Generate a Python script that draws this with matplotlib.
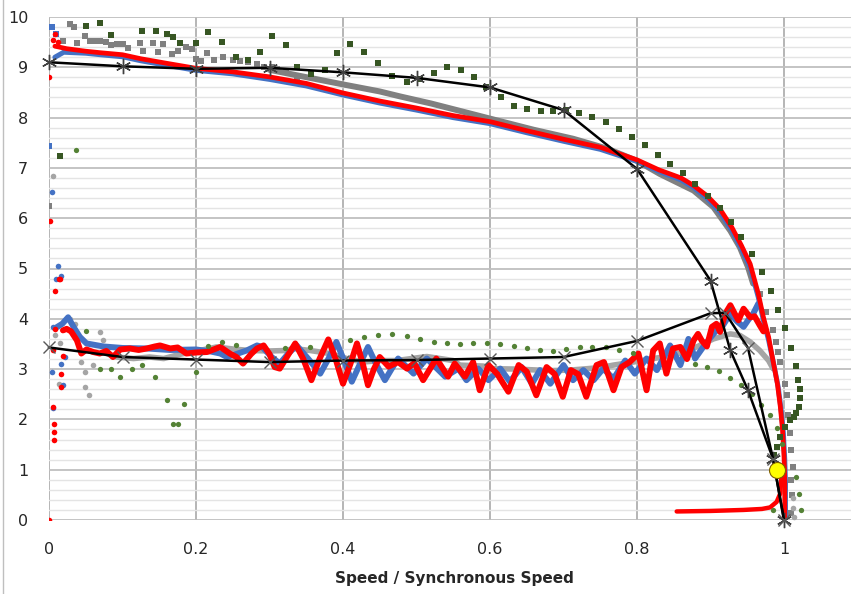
import numpy as np
import matplotlib.pyplot as plt
from matplotlib.lines import Line2D

# ---- data (speed / synchronous speed, value) ----
# upper (squares) family
red_up_x = [0.008, 0.024, 0.05, 0.07, 0.1, 0.125, 0.16, 0.2, 0.25, 0.3, 0.35, 0.4, 0.45, 0.5, 0.55, 0.6, 0.65, 0.7, 0.75, 0.8,
            0.83, 0.86, 0.877, 0.895, 0.913, 0.929, 0.942, 0.954, 0.965, 0.972, 0.979, 0.985, 0.991, 0.995, 0.998, 1.0, 1.001, 1.001]
red_up_y = [9.42, 9.37, 9.32, 9.29, 9.25, 9.17, 9.08, 8.98, 8.91, 8.81, 8.68, 8.49, 8.33, 8.19, 8.04, 7.92, 7.74, 7.57, 7.41, 7.16,
            6.96, 6.8, 6.65, 6.45, 6.18, 5.82, 5.46, 5.09, 4.5, 4.03, 3.64, 3.17, 2.71, 2.25, 1.79, 1.26, 0.79, 0.04]

blue_up_x = [0.008, 0.02, 0.05, 0.07, 0.1, 0.125, 0.16, 0.2, 0.25, 0.3, 0.35, 0.4, 0.45, 0.5, 0.55, 0.6, 0.65, 0.7, 0.75, 0.8,
             0.83, 0.86, 0.877, 0.895, 0.913, 0.929, 0.942, 0.954, 0.965, 0.972, 0.979, 0.986, 0.992, 0.996, 0.999, 1.001, 1.002, 1.002]
blue_up_y = [9.2, 9.3, 9.28, 9.25, 9.21, 9.13, 9.04, 8.94, 8.87, 8.76, 8.63, 8.45, 8.29, 8.15, 8.0, 7.88, 7.7, 7.53, 7.37, 7.13,
             6.93, 6.76, 6.61, 6.4, 6.12, 5.76, 5.4, 5.02, 4.43, 3.97, 3.58, 3.1, 2.65, 2.2, 1.75, 1.2, 0.75, 0.04]

gray_up_x = [0.3, 0.341, 0.4, 0.45, 0.478, 0.52, 0.568, 0.6, 0.659, 0.713, 0.76, 0.8, 0.831, 0.877, 0.904, 0.927, 0.94, 0.951, 0.958]
gray_up_y = [8.95, 8.83, 8.66, 8.52, 8.42, 8.28, 8.1, 7.98, 7.76, 7.58, 7.38, 7.14, 6.88, 6.55, 6.22, 5.75, 5.42, 5.03, 4.7]

gray_up_pts_x = [0.0, 0.029, 0.034, 0.019, 0.038, 0.049, 0.056, 0.063, 0.07, 0.078, 0.085, 0.092, 0.1, 0.108, 0.124, 0.128, 0.142,
                 0.148, 0.155, 0.167, 0.176, 0.187, 0.194, 0.2, 0.207, 0.215, 0.225, 0.237, 0.25, 0.26, 0.271, 0.283, 0.292,
                 0.303, 0.31, 0.323, 0.337,
                 0.967, 0.976, 0.985, 0.989, 0.992, 0.995, 1.001, 1.004, 1.006, 1.008, 1.01, 1.012, 1.01, 1.011, 1.01]
gray_up_pts_y = [6.25, 9.87, 9.8, 9.52, 9.49, 9.62, 9.52, 9.53, 9.52, 9.5, 9.44, 9.47, 9.46, 9.39, 9.49, 9.33, 9.49,
                 9.3, 9.46, 9.26, 9.33, 9.4, 9.36, 9.17, 9.12, 9.29, 9.15, 9.21, 9.14, 9.13, 9.1, 9.06, 9.0,
                 9.0, 8.96, 8.93, 8.8,
                 4.5, 4.13, 3.77, 3.54, 3.34, 3.14, 2.71, 2.48, 2.08, 1.72, 1.39, 1.06, 0.79, 0.5, 0.13]

green_up_x = [0.015, 0.051, 0.069, 0.084, 0.127, 0.145, 0.16, 0.169, 0.178, 0.2, 0.217, 0.235, 0.254, 0.271, 0.287, 0.304,
              0.322, 0.338, 0.356, 0.375, 0.392, 0.41, 0.429, 0.448, 0.467, 0.487, 0.505, 0.524, 0.542, 0.56, 0.578, 0.595,
              0.615, 0.632, 0.651, 0.669, 0.686, 0.703, 0.721, 0.739, 0.758, 0.776, 0.793, 0.811, 0.828, 0.845, 0.862,
              0.879, 0.897, 0.913, 0.928, 0.942, 0.956, 0.97, 0.982, 0.992, 1.002, 1.01, 1.016, 1.019, 1.022, 1.022,
              1.021, 1.017, 1.013, 1.008, 1.001, 0.995, 0.99, 0.986]
green_up_y = [7.24, 9.83, 9.88, 9.64, 9.72, 9.72, 9.67, 9.61, 9.49, 9.49, 9.7, 9.5, 9.2, 9.14, 9.3, 9.62,
              9.44, 9.0, 8.86, 8.94, 9.29, 9.46, 9.31, 9.09, 8.83, 8.7, 8.76, 8.88, 9.0, 8.95, 8.81, 8.6,
              8.4, 8.23, 8.17, 8.13, 8.13, 8.15, 8.09, 8.02, 7.92, 7.77, 7.62, 7.45, 7.26, 7.08, 6.89,
              6.67, 6.45, 6.2, 5.92, 5.62, 5.29, 4.93, 4.55, 4.17, 3.82, 3.42, 3.06, 2.78, 2.6, 2.43,
              2.24, 2.12, 2.05, 1.98, 1.85, 1.65, 1.45, 1.29]

black_up_x = [0.0, 0.1, 0.2, 0.3, 0.4, 0.5, 0.6, 0.7, 0.8, 0.9, 0.927, 0.951, 0.985, 1.0]
black_up_y = [9.1, 9.02, 8.97, 8.99, 8.9, 8.79, 8.6, 8.15, 6.98, 4.76, 3.37, 2.58, 1.22, 0.0]

# lower (circles) family
red_low_x = [0.019, 0.024, 0.03, 0.038, 0.044, 0.051, 0.06, 0.069, 0.078, 0.087, 0.097, 0.11, 0.122, 0.133, 0.144, 0.151,
             0.165, 0.175, 0.187, 0.2, 0.215, 0.224, 0.233, 0.246, 0.255, 0.264, 0.275, 0.283, 0.292, 0.3, 0.307, 0.314,
             0.324, 0.335, 0.346, 0.357, 0.368, 0.38, 0.39, 0.4, 0.41, 0.419, 0.427, 0.434, 0.442, 0.45, 0.462, 0.475,
             0.487, 0.497, 0.509, 0.527, 0.543, 0.552, 0.566, 0.577, 0.586, 0.598, 0.61, 0.625, 0.639, 0.65, 0.663,
             0.677, 0.688, 0.699, 0.71, 0.72, 0.731, 0.745, 0.755, 0.768, 0.779, 0.79, 0.802, 0.813, 0.822, 0.831,
             0.84, 0.849, 0.859, 0.868, 0.877, 0.883, 0.888, 0.895, 0.902, 0.908, 0.913, 0.92, 0.927, 0.933, 0.938,
             0.945, 0.954, 0.96, 0.967, 0.972]
red_low_y = [3.77, 3.8, 3.75, 3.57, 3.31, 3.39, 3.34, 3.31, 3.36, 3.24, 3.39, 3.41, 3.38, 3.41, 3.45, 3.47,
             3.41, 3.43, 3.31, 3.33, 3.34, 3.39, 3.44, 3.31, 3.24, 3.11, 3.3, 3.41, 3.47, 3.3, 3.04, 3.01,
             3.25, 3.51, 3.2, 2.78, 3.2, 3.59, 3.2, 2.71, 3.1, 3.51, 3.1, 2.68, 3.0, 3.24, 3.05, 3.14,
             3.01, 3.12, 2.78, 3.21, 2.85, 3.11, 2.85, 3.14, 2.58, 3.08, 2.9, 2.55, 3.08, 2.95, 2.48,
             3.04, 2.9, 2.45, 2.98, 2.9, 2.45, 3.08, 3.14, 2.58, 3.04, 3.14, 3.31, 2.58, 3.37, 3.51,
             2.91, 3.41, 3.44, 3.2, 3.57, 3.7, 3.57, 3.45, 3.84, 3.9, 3.74, 4.1, 4.27, 4.1, 3.97,
             4.2, 4.03, 4.05, 3.87, 3.75]

red_tail_x = [0.854, 0.9, 0.945, 0.97, 0.981, 0.99, 0.995, 0.997]
red_tail_y = [0.17, 0.18, 0.2, 0.22, 0.25, 0.36, 0.53, 1.0]

red_pts_x = [0.0, 0.007, 0.007, 0.007, 0.006, 0.016, 0.017, 0.019, 0.005, 0.008, 0.008, 0.013, 0.015, 0.001, 0.0, 0.008, 0.006, 0.012]
red_pts_y = [0.0, 1.9, 1.74, 1.6, 2.25, 2.91, 2.64, 3.27, 3.37, 3.79, 4.55, 4.8, 4.8, 5.95, 8.81, 9.66, 9.55, 9.5]

blue_low_x = [0.008, 0.018, 0.026, 0.035, 0.042, 0.051, 0.074, 0.1, 0.133, 0.165, 0.2, 0.22, 0.233, 0.242, 0.255, 0.269,
              0.283, 0.29, 0.303, 0.314, 0.325, 0.337, 0.353, 0.369, 0.38, 0.391, 0.402, 0.412, 0.423, 0.434, 0.445,
              0.457, 0.466, 0.475, 0.496, 0.514, 0.539, 0.557, 0.568, 0.584, 0.598, 0.614, 0.627, 0.643, 0.657, 0.668,
              0.682, 0.7, 0.713, 0.727, 0.741, 0.754, 0.768, 0.784, 0.797, 0.813, 0.827, 0.845, 0.859, 0.87, 0.879,
              0.893, 0.908, 0.917, 0.927, 0.936, 0.945, 0.951, 0.958, 0.965]
blue_low_y = [3.81, 3.9, 4.03, 3.8, 3.64, 3.51, 3.45, 3.42, 3.41, 3.38, 3.39, 3.35, 3.31, 3.24, 3.3, 3.37,
              3.47, 3.44, 3.24, 3.11, 3.3, 3.47, 3.2, 2.91, 3.2, 3.54, 3.15, 2.75, 3.1, 3.44, 3.1,
              2.78, 3.0, 3.21, 2.91, 3.21, 2.85, 3.01, 2.78, 3.01, 2.78, 3.01, 2.75, 3.04, 2.71, 2.98,
              2.71, 3.08, 2.78, 2.98, 2.78, 3.01, 2.81, 3.17, 2.91, 3.21, 2.98, 3.47, 3.08, 3.6, 3.21,
              3.5, 3.77, 3.87, 4.1, 3.95, 3.84, 3.97, 4.1, 4.3]

blue_sq_x = [0.004, 0.01, 0.0]
blue_sq_y = [9.8, 9.67, 7.44]
blue_pts_x = [0.004, 0.012, 0.009, 0.016, 0.006, 0.004, 0.005, 0.017, 0.019, 0.022]
blue_pts_y = [6.53, 5.04, 4.8, 4.85, 3.84, 2.94, 2.22, 3.11, 2.68, 3.25]

gray_low_x = [0.08, 0.092, 0.115, 0.137, 0.156, 0.18, 0.205, 0.228, 0.25, 0.273, 0.3, 0.323, 0.332, 0.355, 0.382, 0.405,
              0.427, 0.45, 0.473, 0.514, 0.532, 0.55, 0.559, 0.591, 0.6, 0.636, 0.682, 0.709, 0.75, 0.768, 0.795, 0.822,
              0.849, 0.881, 0.904, 0.927, 0.94, 0.954, 0.967, 0.979, 0.985]
gray_low_y = [3.3, 3.24, 3.21, 3.24, 3.21, 3.3, 3.37, 3.44, 3.4, 3.37, 3.36, 3.37, 3.41, 3.37, 3.31, 3.21,
              3.14, 3.17, 3.17, 3.25, 3.21, 3.17, 3.08, 3.06, 3.01, 3.0, 2.97, 2.98, 3.03, 3.08, 3.14, 3.21,
              3.27, 3.44, 3.6, 3.7, 3.67, 3.54, 3.37, 3.17, 3.01]
gray_low_pts_x = [0.006, 0.008, 0.015, 0.013, 0.029, 0.035, 0.044, 0.049, 0.06, 0.049, 0.054, 0.069, 0.074,
                  1.012, 1.012, 1.013]
gray_low_pts_y = [6.83, 3.67, 3.51, 2.71, 4.0, 3.9, 3.14, 2.94, 3.08, 2.64, 2.48, 3.74, 3.57,
                  0.44, 0.24, 0.06]

green_low_x = [0.037, 0.051, 0.069, 0.084, 0.097, 0.113, 0.127, 0.144, 0.16, 0.169, 0.176, 0.183, 0.2, 0.217, 0.235,
               0.254, 0.321, 0.355, 0.41, 0.428, 0.448, 0.466, 0.487, 0.505, 0.524, 0.541, 0.559, 0.577, 0.596,
               0.614, 0.632, 0.651, 0.668, 0.686, 0.703, 0.722, 0.739, 0.758, 0.776, 0.795, 0.879, 0.895, 0.911,
               0.927, 0.942, 0.956, 0.969, 0.981, 0.991, 0.997, 0.985, 1.017, 1.02, 1.023]
green_low_y = [7.36, 3.75, 3.0, 3.01, 2.85, 3.01, 3.08, 2.85, 2.38, 1.9, 1.9, 2.3, 2.94, 3.46, 3.54,
               3.47, 3.41, 3.44, 3.57, 3.64, 3.67, 3.69, 3.66, 3.59, 3.54, 3.51, 3.5, 3.51, 3.52,
               3.49, 3.45, 3.41, 3.37, 3.35, 3.39, 3.43, 3.43, 3.43, 3.37, 3.33, 3.11, 3.04, 2.96,
               2.83, 2.68, 2.51, 2.28, 2.08, 1.82, 1.52, 0.2, 0.86, 0.52, 0.2]

black_low_x = [0.0, 0.1, 0.2, 0.3, 0.4, 0.5, 0.6, 0.7, 0.8, 0.9, 0.92, 0.951, 0.985, 1.0]
black_low_y = [3.43, 3.24, 3.19, 3.14, 3.17, 3.18, 3.21, 3.24, 3.56, 4.11, 4.12, 3.42, 1.22, 0.0]

op_x = [0.99]
op_y = [0.99]

# ---- figure ----
fig = plt.figure(figsize=(8.51, 5.94), dpi=100)
ax = fig.add_axes([49 / 851, 74 / 594, 808.5 / 851, 503 / 594])

gray_dk = '#808080'
gray_lt = '#A5A5A5'
blue = '#4472C4'
red = '#FF0000'
green_dk = '#375623'
green = '#548235'

# gray
ax.plot(gray_up_x, gray_up_y, color=gray_dk, lw=4.3, solid_capstyle='round', zorder=2)
ax.plot(gray_up_pts_x, gray_up_pts_y, 's', color=gray_dk, ms=4.5, mew=0, zorder=2)
ax.plot(gray_low_x, gray_low_y, color=gray_lt, lw=4.0, solid_capstyle='round', zorder=2)
ax.plot(gray_low_pts_x, gray_low_pts_y, 'o', color=gray_lt, ms=4, mew=0, zorder=2)

# blue
ax.plot(blue_up_x, blue_up_y, color=blue, lw=3.6, solid_capstyle='round', zorder=3)
ax.plot(blue_low_x, blue_low_y, color=blue, lw=4.3, solid_capstyle='round', zorder=3)
ax.plot(blue_sq_x, blue_sq_y, 's', color=blue, ms=4.5, mew=0, zorder=3)
ax.plot(blue_pts_x, blue_pts_y, 'o', color=blue, ms=4, mew=0, zorder=3)

# red
ax.plot(red_up_x, red_up_y, color=red, lw=3.4, solid_capstyle='round', zorder=4)
ax.plot(red_low_x, red_low_y, color=red, lw=4.3, solid_capstyle='round', zorder=4)
ax.plot(red_tail_x, red_tail_y, color=red, lw=3.2, solid_capstyle='round', zorder=4)
ax.plot(red_pts_x, red_pts_y, 'o', color=red, ms=4, mew=0, zorder=4)

# green
ax.plot(green_up_x, green_up_y, 's', color=green_dk, ms=4.3, mew=0, zorder=5)
ax.plot(green_low_x, green_low_y, 'o', color=green, ms=3.8, mew=0, zorder=5)

# black
ax.plot(black_up_x, black_up_y, color='black', lw=1.8, marker=(6, 2, 0), ms=11, mec='#404040', mew=1.0,
        zorder=6, clip_on=False)
ax.plot(black_low_x, black_low_y, color='black', lw=1.8, marker='x', ms=9, mec='#595959', mew=1.0,
        zorder=6, clip_on=False)

# operating point
ax.plot(op_x, op_y, 'o', color='#FFFF00', ms=11.5, mec='#7F6000', mew=0.8, zorder=7)

# ---- axes cosmetics ----
ax.set_xlim(0, 1.1)
ax.set_ylim(0, 10)
ax.set_xticks([0, 0.2, 0.4, 0.6, 0.8, 1.0])
ax.set_xticklabels(['0', '0.2', '0.4', '0.6', '0.8', '1'])
ax.set_yticks(np.arange(0, 11, 1))
ax.set_yticks(np.arange(0, 10.01, 0.2), minor=True)
ax.grid(which='major', axis='y', color='#BFBFBF', lw=1.3, zorder=0)
ax.grid(which='minor', axis='y', color='#E4E4E4', lw=1.0, zorder=0)
ax.grid(which='major', axis='x', color='#B0B0B0', lw=1.3, zorder=0)
ax.set_axisbelow(True)
for s in ax.spines.values():
    s.set_visible(False)
ax.tick_params(which='both', length=0)
ax.tick_params(axis='x', pad=15.5, labelsize=11.5, labelcolor='#262626')
ax.tick_params(axis='y', pad=15, labelsize=11.5, labelcolor='#262626')

ax.set_xlabel('Speed / Synchronous Speed', fontsize=11, fontweight='bold', color='#262626')
ax.xaxis.set_label_coords((454 - 49) / 808.5, -(579 - 520) / 503)
ax.xaxis.label.set_va('center')

# chart area border on the left
fig.add_artist(Line2D([3 / 851, 3 / 851], [0, 1], color='#BFBFBF', lw=1.0))

fig.savefig('out.png', dpi=100)
